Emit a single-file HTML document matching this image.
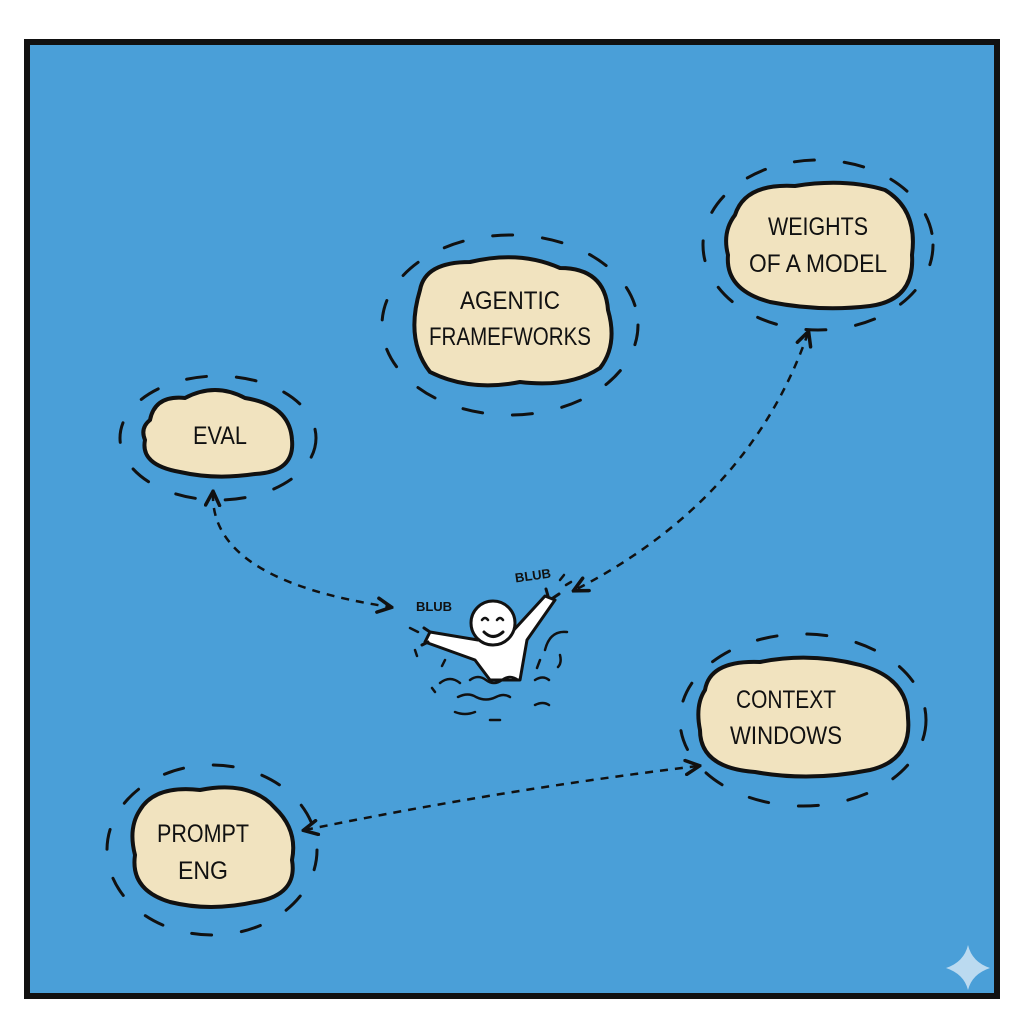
<!DOCTYPE html>
<html><head><meta charset="utf-8"><style>
html,body{margin:0;padding:0;background:#fff;}
svg{display:block}
text{font-family:"Liberation Sans",sans-serif;fill:#111;}
</style></head><body>
<svg width="1024" height="1024" viewBox="0 0 1024 1024" xmlns="http://www.w3.org/2000/svg">
<defs>
<marker id="ah" viewBox="0 0 10 10" refX="8" refY="5" markerWidth="7" markerHeight="7" orient="auto-start-reverse">
<path d="M1,1 L9,5 L1,9" fill="none" stroke="#111" stroke-width="2" stroke-linecap="round"/>
</marker>
</defs>
<rect x="27" y="42" width="970" height="954" fill="#4a9fd8" stroke="#111" stroke-width="6"/>

<g fill="none" stroke="#111" stroke-width="3" stroke-linecap="round">
<g stroke-dasharray="20 30">
<ellipse cx="510" cy="325" rx="128" ry="90"/>
<ellipse cx="818" cy="245" rx="115" ry="85"/>
<ellipse cx="218" cy="438" rx="98" ry="62"/>
<ellipse cx="803" cy="720" rx="123" ry="86"/>
<ellipse cx="212" cy="850" rx="105" ry="85"/>
</g>
</g>

<g fill="#f1e3bf" stroke="#111" stroke-width="4">
<path d="M420,290 Q425,262 470,262 Q520,250 560,268 Q605,268 608,310 Q618,345 600,368 Q570,388 520,382 Q470,392 430,372 Q405,340 420,290Z"/>
<path d="M735,215 Q745,183 795,186 Q845,178 885,190 Q918,210 912,255 Q915,300 870,306 Q820,312 770,302 Q725,290 728,255 Q722,232 735,215Z"/>
<path d="M150,420 Q155,395 185,398 Q215,382 245,398 Q290,405 292,440 Q295,472 255,474 Q215,480 180,472 Q140,465 145,440 Q140,428 150,420Z"/>
<path d="M705,690 Q710,660 760,662 Q810,652 860,665 Q908,678 908,718 Q912,760 870,770 Q810,782 755,772 Q700,768 700,730 Q695,705 705,690Z"/>
<path d="M140,810 Q155,785 200,790 Q250,780 275,808 Q298,830 292,860 Q298,895 255,902 Q210,912 170,902 Q130,890 135,855 Q128,828 140,810Z"/>
</g>

<g font-size="25" text-anchor="middle">
<text x="510" y="309" textLength="100" lengthAdjust="spacingAndGlyphs">AGENTIC</text>
<text x="510" y="345" textLength="162" lengthAdjust="spacingAndGlyphs">FRAMEFWORKS</text>
<text x="818" y="235" textLength="100" lengthAdjust="spacingAndGlyphs">WEIGHTS</text>
<text x="818" y="272" textLength="138" lengthAdjust="spacingAndGlyphs">OF A MODEL</text>
<text x="220" y="444" textLength="54" lengthAdjust="spacingAndGlyphs">EVAL</text>
<text x="786" y="708" textLength="100" lengthAdjust="spacingAndGlyphs">CONTEXT</text>
<text x="786" y="744" textLength="112" lengthAdjust="spacingAndGlyphs">WINDOWS</text>
<text x="203" y="842" textLength="92" lengthAdjust="spacingAndGlyphs">PROMPT</text>
<text x="203" y="879" textLength="50" lengthAdjust="spacingAndGlyphs">ENG</text>
</g>

<g fill="none" stroke="#111" stroke-width="2.5" stroke-dasharray="8 7" marker-start="url(#ah)" marker-end="url(#ah)">
<path d="M213,493 Q210,580 390,607"/>
<path d="M808,333 Q750,500 575,590"/>
<path d="M305,830 Q500,790 698,766"/>
</g>

<g stroke="#111" stroke-width="3" stroke-linecap="round" stroke-linejoin="round">
<path d="M478,640 L430,632 L425,642 L475,660 L490,680 L520,680 L527,640 L555,600 L545,596 L512,632Z" fill="#fff"/>
<circle cx="493" cy="623" r="22" fill="#fff"/>
<path d="M484,632 Q493,641 503,632" fill="none"/>
<path d="M482,620 q3,-4 6,0 M497,620 q3,-4 6,0" fill="none" stroke-width="2.5"/>
<path d="M430,632 l-6,-4 M428,642 l-6,3 M548,596 l-2,-7 M553,598 l6,-4" fill="none"/>
<g fill="none" stroke-width="2.5">
<path d="M440,683 q10,-8 20,0 M470,680 q8,-6 16,0 q8,6 16,0 q8,-6 16,0 M458,697 q10,-5 18,0 q10,5 20,0 q8,-4 14,0 M455,712 q10,4 20,0 M490,720 l10,0 M535,680 q8,-5 14,0 M535,705 q8,-4 14,0 M432,688 l3,4 M445,660 l-3,6"/>
<path d="M545,650 q5,-20 22,-18 M540,660 l-3,8 M560,655 q2,8 -2,12 M410,628 l8,4 M415,650 l2,6"/>
<path d="M560,580 l4,-5 M566,585 l5,-3"/>
</g>
</g>
<g font-size="13" font-weight="bold" text-anchor="middle">
<text x="434" y="611">BLUB</text>
<text x="533" y="580" transform="rotate(-8 533 576)">BLUB</text>
</g>

<path d="M968,945 Q972,962 990,968 Q972,974 968,990 Q964,974 946,968 Q964,962 968,945Z" fill="#cfe4f5" opacity="0.85"/>
</svg>
</body></html>
